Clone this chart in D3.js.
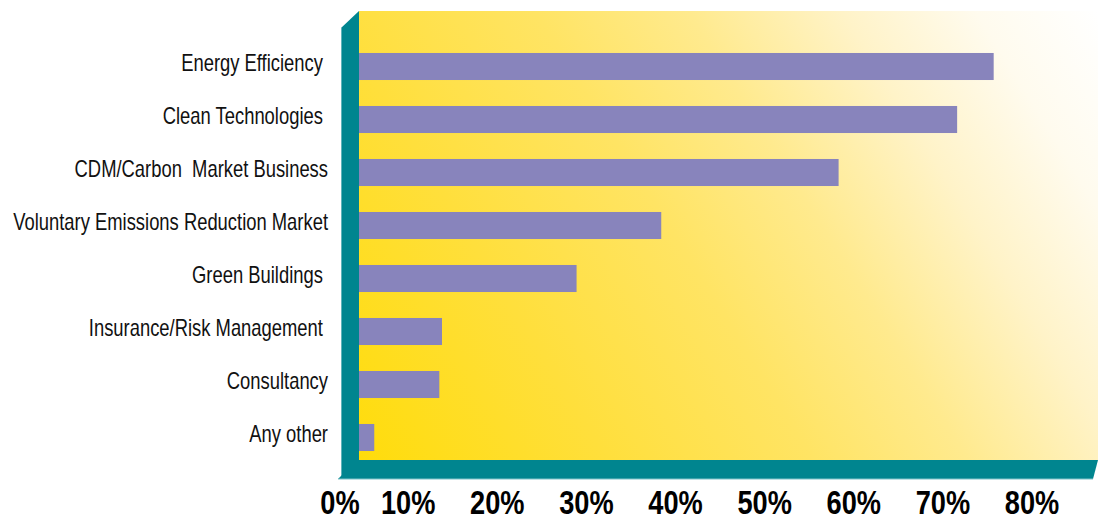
<!DOCTYPE html>
<html>
<head>
<meta charset="utf-8">
<script src="https://cdn.jsdelivr.net/npm/d3@7"></script>
<style>
  html, body { margin: 0; padding: 0; background: #fff; }
  svg { display: block; }
</style>
</head>
<body>
<svg id="chart" width="1098" height="522"></svg>
<script>
    // data
    var categories = ["Energy Efficiency ", "Clean Technologies ", "CDM/Carbon  Market Business",
        "Voluntary Emissions Reduction Market", "Green Buildings ", "Insurance/Risk Management ",
        "Consultancy", "Any other"];
    var values = [75.7, 71.6, 58.3, 38.4, 28.9, 13.8, 13.5, 6.2];
    var tickValues = [0, 10, 20, 30, 40, 50, 60, 70, 80];
    var tickLabels = ["0%", "10%", "20%", "30%", "40%", "50%", "60%", "70%", "80%"];

    var svg = d3.select("#chart"),
        plot = { left: 359, top: 11, right: 1098, bottom: 460 },
        teal = "#00858f",
        barColor = "#8884bc",
        font = "'Liberation Sans', Arial, sans-serif",
        defs = svg.append("defs");

    var x = d3.scaleLinear().domain([0, 80]).range([319, 1032]);
    var y = d3.scaleBand().domain(categories).range([40, 464])
        .paddingInner(0.49).paddingOuter(0.245);

    // back panel gradient, strong yellow bottom-left fading to white top-right
    var grad = defs.append("linearGradient")
        .attr("id", "bg")
        .attr("gradientUnits", "userSpaceOnUse")
        .attr("x1", 360).attr("y1", 470).attr("x2", 1098).attr("y2", 11);
    [[0, "#ffdc0a"], [0.25, "#ffdf3c"], [0.45, "#ffe464"], [0.6, "#ffea8e"],
        [0.75, "#fff3c8"], [0.88, "#fffbee"], [1, "#ffffff"]].forEach(function (s) {
        grad.append("stop").attr("offset", s[0]).attr("stop-color", s[1]);
    });

    defs.append("clipPath").attr("id", "plotClip")
        .append("rect")
        .attr("x", plot.left).attr("y", plot.top)
        .attr("width", plot.right - plot.left).attr("height", plot.bottom - plot.top);

    svg.append("rect")
        .attr("x", plot.left).attr("y", plot.top)
        .attr("width", plot.right - plot.left).attr("height", plot.bottom - plot.top)
        .attr("fill", "url(#bg)");

    // Bars
    svg.append("g")
        .attr("clip-path", "url(#plotClip)")
        .selectAll("rect")
        .data(values)
        .enter().append("rect")
        .attr("x", x(0))
        .attr("y", function (d, i) { return y(categories[i]); })
        .attr("width", function (d) { return x(d) - x(0); })
        .attr("height", y.bandwidth())
        .attr("fill", barColor);

    // Left wall and floor
    svg.append("path")
        .attr("d", "M341,28 L359,11 L359,460 L341,479 Z")
        .attr("fill", teal);
    svg.append("line")
        .attr("x1", 341.5).attr("y1", 28).attr("x2", 341.5).attr("y2", 478)
        .attr("stroke", "#5fb3ba").attr("stroke-width", 1);
    svg.append("path")
        .attr("d", "M357,460 L1098,460 L1093,479 L338,479 Z")
        .attr("fill", teal);
    svg.append("line")
        .attr("x1", 338).attr("y1", 479).attr("x2", 1093).attr("y2", 479)
        .attr("stroke", "#7cc2c8").attr("stroke-width", 1);

    // Category labels (condensed by squeezing horizontally)
    svg.append("g")
        .selectAll("text")
        .data(categories)
        .enter().append("text")
        .attr("transform", function (d) {
            return "translate(328," + (y(d) + y.bandwidth() / 2 + 4) + ") scale(0.8,1)";
        })
        .attr("text-anchor", "end")
        .style("white-space", "pre")
        .attr("font-family", font)
        .attr("font-size", 23)
        .attr("fill", "#111")
        .text(function (d) { return d; });

    // Value axis labels
    svg.append("g")
        .selectAll("text")
        .data(tickValues)
        .enter().append("text")
        .attr("transform", function (d) {
            return "translate(" + Math.max(x(d), 340) + ",514) scale(0.8,1)";
        })
        .attr("text-anchor", "middle")
        .attr("font-family", font)
        .attr("font-weight", "bold")
        .attr("font-size", 34)
        .attr("fill", "#000")
        .text(function (d, i) { return tickLabels[i]; });
</script>
</body>
</html>
